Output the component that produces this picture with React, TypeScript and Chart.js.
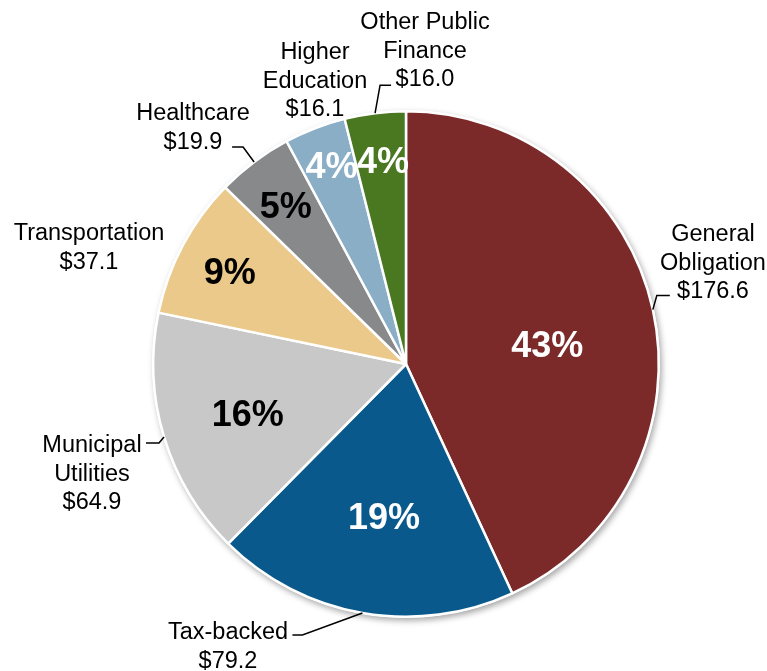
import React, { useEffect, useRef } from "react";
import { Chart, registerables } from "chart.js";

Chart.register(...registerables);

const categories = [
  "General Obligation",
  "Tax-backed",
  "Municipal Utilities",
  "Transportation",
  "Healthcare",
  "Higher Education",
  "Other Public Finance",
];
const values = [176.6, 79.2, 64.9, 37.1, 19.9, 16.1, 16.0];
const percentLabels = ["43%", "19%", "16%", "9%", "5%", "4%", "4%"];
const outerLabelLines = [
  ["General", "Obligation", "$176.6"],
  ["Tax-backed", "$79.2"],
  ["Municipal", "Utilities", "$64.9"],
  ["Transportation", "$37.1"],
  ["Healthcare", "$19.9"],
  ["Higher", "Education", "$16.1"],
  ["Other Public", "Finance", "$16.0"],
];

const colors = ["#7B2A29", "#0A598C", "#C8C8C8", "#EAC98B", "#88898B", "#8AAEC6", "#497821"];
const pctColors = ["#FFFFFF", "#FFFFFF", "#000000", "#000000", "#000000", "#FFFFFF", "#FFFFFF"];

// layout styling: percent label offsets from pie center, in units of radius
const pctPos = [
  [0.559, -0.075],
  [-0.087, 0.606],
  [-0.626, 0.2],
  [-0.697, -0.362],
  [-0.476, -0.626],
  [-0.295, -0.783],
  [-0.091, -0.803],
];
// label block center x offset and first-line y offset from pie center (px)
const labelPos = [
  [307, -129],
  [-178, 269],
  [-314, 82],
  [-317, -130],
  [-213, -250],
  [-91, -311],
  [19, -341],
];
// leader: elbow offset from arc point, then horizontal length
const leaders: (number[] | null)[] = [
  [4, -14, 13],
  [-60, 22, -10],
  [-5, 6, -13],
  null,
  [-11, -15, -11],
  null,
  [5, -28, 11],
];

const labelPlugin = {
  id: "pieLabels",
  beforeDatasetsDraw(chart: any) {
    const meta = chart.getDatasetMeta(0);
    const arc = meta.data[0];
    if (!arc) return;
    const ctx = chart.ctx;
    ctx.save();
    ctx.shadowColor = "rgba(0,0,0,0.35)";
    ctx.shadowBlur = 6;
    ctx.shadowOffsetX = 2;
    ctx.shadowOffsetY = 3;
    ctx.fillStyle = "#FFFFFF";
    ctx.beginPath();
    ctx.arc(arc.x, arc.y, arc.outerRadius + 1, 0, Math.PI * 2);
    ctx.fill();
    ctx.restore();
  },
  afterDatasetsDraw(chart: any) {
    const ctx = chart.ctx;
    const meta = chart.getDatasetMeta(0);
    ctx.save();
    meta.data.forEach((arc: any, i: number) => {
      const mid = (arc.startAngle + arc.endAngle) / 2;
      const R = arc.outerRadius;
      const cx = arc.x;
      const cy = arc.y;
      // percent
      ctx.fillStyle = pctColors[i];
      ctx.font = "bold 36px 'Liberation Sans', Arial, sans-serif";
      ctx.textAlign = "center";
      ctx.textBaseline = "middle";
      ctx.fillText(percentLabels[i], cx + pctPos[i][0] * R, cy + pctPos[i][1] * R + 2);
      // outer label
      ctx.fillStyle = "#000000";
      ctx.font = "23.5px 'Liberation Sans', Arial, sans-serif";
      const lines = outerLabelLines[i];
      lines.forEach((ln, k) => {
        ctx.fillText(ln, cx + labelPos[i][0], cy + labelPos[i][1] + k * 28.5);
      });
      // leader
      const ld = leaders[i];
      if (ld) {
        const sx = cx + Math.cos(mid) * R;
        const sy = cy + Math.sin(mid) * R;
        ctx.strokeStyle = "#000000";
        ctx.lineWidth = 1.5;
        ctx.beginPath();
        ctx.moveTo(sx, sy);
        ctx.lineTo(sx + ld[0], sy + ld[1]);
        ctx.lineTo(sx + ld[0] + ld[2], sy + ld[1]);
        ctx.stroke();
      }
    });
    ctx.restore();
  },
};

export default function App() {
  const ref = useRef<HTMLCanvasElement>(null);
  useEffect(() => {
    if (!ref.current) return;
    const chart = new Chart(ref.current, {
      type: "pie",
      data: {
        labels: categories,
        datasets: [
          {
            data: values,
            backgroundColor: colors,
            borderColor: "#FFFFFF",
            borderWidth: 2.5,
          },
        ],
      },
      options: {
        animation: false,
        responsive: false,
        layout: { padding: { left: 152, right: 107, top: 110, bottom: 53 } },
        plugins: {
          legend: { display: false },
          tooltip: { enabled: false },
        },
      },
      plugins: [labelPlugin],
    });
    return () => chart.destroy();
  }, []);
  return (
    <div style={{ position: "absolute", left: 0, top: 0, width: 767, height: 671, background: "#fff" }}>
      <canvas ref={ref} width={767} height={671} style={{ width: 767, height: 671 }} />
    </div>
  );
}
